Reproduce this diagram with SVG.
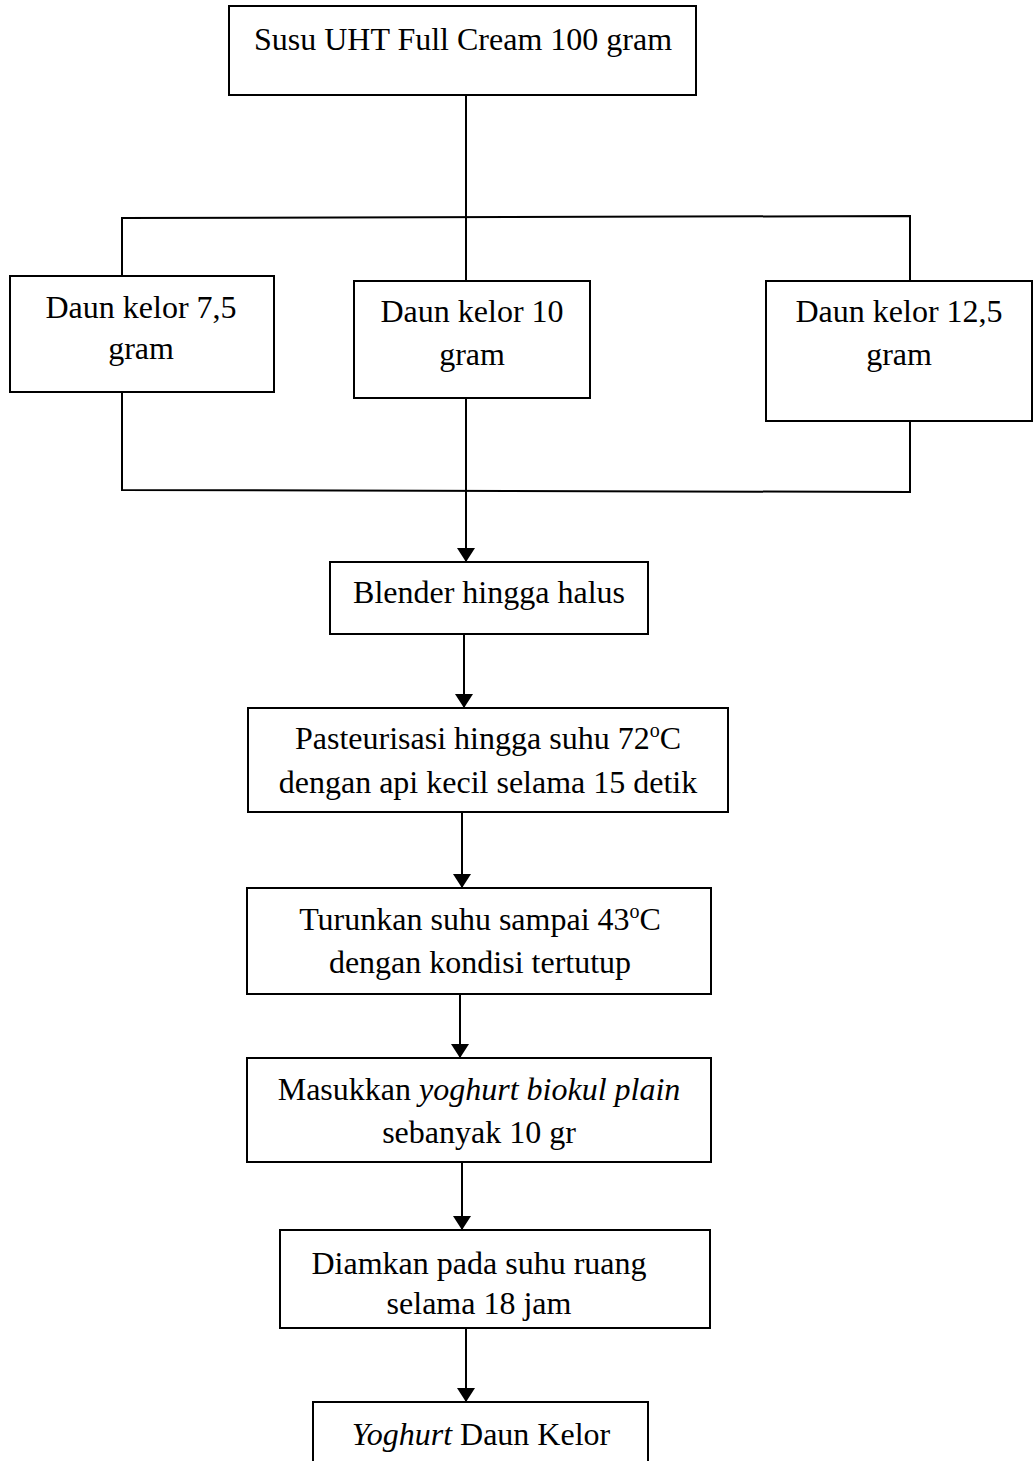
<svg xmlns="http://www.w3.org/2000/svg" width="1034" height="1461" viewBox="0 0 1034 1461">
<style>
.box{fill:#fff;stroke:#000;stroke-width:2}
.t{font-family:"Liberation Serif","Times New Roman",serif;font-size:32px;text-anchor:middle;fill:#000}
.sup{font-size:20px}
.c{fill:none;stroke:#000;stroke-width:2}
.a{fill:none;stroke:#000;stroke-width:2;marker-end:url(#arr)}
</style>
<defs>
<marker id="arr" viewBox="0 0 14 18" refX="14" refY="9" markerWidth="14" markerHeight="18" markerUnits="userSpaceOnUse" orient="auto">
<path d="M0,0 L14,9 L0,18 z" fill="#000"/>
</marker>
</defs>
<rect width="1034" height="1461" fill="#fff"/>
<g id="connectors">
<line class="c" x1="466" y1="95" x2="466" y2="281"/>
<polyline class="c" points="122,276 122,218 910,216 910,281"/>
<polyline class="c" points="122,392 122,490 910,492 910,421"/>
<line class="a" x1="466" y1="398" x2="466" y2="562"/>
<line class="a" x1="464" y1="634" x2="464" y2="708"/>
<line class="a" x1="462" y1="812" x2="462" y2="888"/>
<line class="a" x1="460" y1="994" x2="460" y2="1058"/>
<line class="a" x1="462" y1="1162" x2="462" y2="1230"/>
<line class="a" x1="466" y1="1328" x2="466" y2="1402"/>
</g>
<g id="n1">
<rect class="box" x="229" y="6" width="467" height="89"/>
<text class="t" x="463" y="50">Susu UHT Full Cream 100 gram</text>
</g>
<g id="n2">
<rect class="box" x="10" y="276" width="264" height="116"/>
<text class="t"><tspan x="141" y="318">Daun kelor 7,5</tspan><tspan x="141" y="359">gram</tspan></text>
</g>
<g id="n3">
<rect class="box" x="354" y="281" width="236" height="117"/>
<text class="t"><tspan x="472" y="322">Daun kelor 10</tspan><tspan x="472" y="365">gram</tspan></text>
</g>
<g id="n4">
<rect class="box" x="766" y="281" width="266" height="140"/>
<text class="t"><tspan x="899" y="322">Daun kelor 12,5</tspan><tspan x="899" y="365">gram</tspan></text>
</g>
<g id="n5">
<rect class="box" x="330" y="562" width="318" height="72"/>
<text class="t" x="489" y="603">Blender hingga halus</text>
</g>
<g id="n6">
<rect class="box" x="248" y="708" width="480" height="104"/>
<text class="t"><tspan x="488" y="749">Pasteurisasi hingga suhu 72<tspan class="sup" dy="-12">o</tspan><tspan dy="12">C</tspan></tspan><tspan x="488" y="793">dengan api kecil selama 15 detik</tspan></text>
</g>
<g id="n7">
<rect class="box" x="247" y="888" width="464" height="106"/>
<text class="t"><tspan x="480" y="930">Turunkan suhu sampai 43<tspan class="sup" dy="-12">o</tspan><tspan dy="12">C</tspan></tspan><tspan x="480" y="973">dengan kondisi tertutup</tspan></text>
</g>
<g id="n8">
<rect class="box" x="247" y="1058" width="464" height="104"/>
<text class="t"><tspan x="479" y="1100">Masukkan <tspan font-style="italic">yoghurt biokul plain</tspan></tspan><tspan x="479" y="1143">sebanyak 10 gr</tspan></text>
</g>
<g id="n9">
<rect class="box" x="280" y="1230" width="430" height="98"/>
<text class="t"><tspan x="479" y="1274">Diamkan pada suhu ruang</tspan><tspan x="479" y="1314">selama 18 jam</tspan></text>
</g>
<g id="n10">
<rect class="box" x="313" y="1402" width="335" height="80"/>
<text class="t" x="481" y="1445"><tspan font-style="italic">Yoghurt</tspan> Daun Kelor</text>
</g>
</svg>
